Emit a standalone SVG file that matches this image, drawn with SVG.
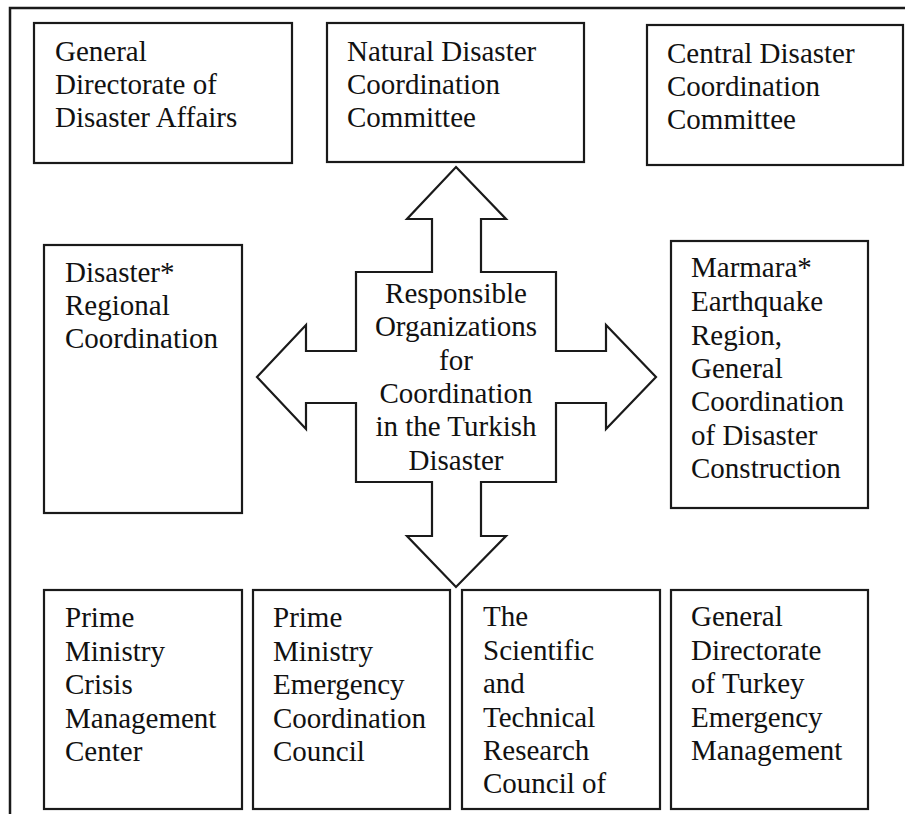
<svg xmlns="http://www.w3.org/2000/svg" width="905" height="814" viewBox="0 0 905 814">
<style>
  .box { fill: #ffffff; stroke: #1a1a1a; stroke-width: 2.2; }
  .frame { fill: none; stroke: #1a1a1a; stroke-width: 2.5; }
  text { font-family: 'Liberation Serif', 'DejaVu Serif', serif; font-size: 29px; fill: #111111; }
  .c { text-anchor: middle; }
  .arrow { fill: #ffffff; stroke: #1a1a1a; stroke-width: 2.2; stroke-linejoin: miter; }
</style>
<rect x="0" y="0" width="905" height="814" fill="#ffffff"/>
<path class="frame" d="M10,814 L10,8 L905,8"/>

<g id="connectors">
  <polygon class="arrow" points="456,167 506,219 481,219 481,272 556,272 556,351 606,351 606,325 656,377 606,429 606,403 556,403 556,482 481,482 481,536 506,536 456,587 407,536 432,536 432,482 356,482 356,403 306,403 306,429 257,377 306,325 306,351 356,351 356,272 432,272 432,219 407,219"/>
</g>

<g id="center" font-family="Liberation Serif, DejaVu Serif, serif">
  <text class="c" x="456" y="303">Responsible</text>
  <text class="c" x="456" y="336">Organizations</text>
  <text class="c" x="456" y="370">for</text>
  <text class="c" x="456" y="403">Coordination</text>
  <text class="c" x="456" y="436">in the Turkish</text>
  <text class="c" x="456" y="470">Disaster</text>
</g>

<g id="gdda" font-family="Liberation Serif, DejaVu Serif, serif">
  <rect class="box" x="34" y="23" width="258" height="140"/>
  <text x="55" y="61">General</text>
  <text x="55" y="94">Directorate of</text>
  <text x="55" y="127">Disaster Affairs</text>
</g>

<g id="ndcc" font-family="Liberation Serif, DejaVu Serif, serif">
  <rect class="box" x="327" y="23" width="257" height="139"/>
  <text x="347" y="61">Natural Disaster</text>
  <text x="347" y="94">Coordination</text>
  <text x="347" y="127">Committee</text>
</g>

<g id="cdcc" font-family="Liberation Serif, DejaVu Serif, serif">
  <rect class="box" x="647" y="25" width="256" height="140"/>
  <text x="667" y="63">Central Disaster</text>
  <text x="667" y="96">Coordination</text>
  <text x="667" y="129">Committee</text>
</g>

<g id="drc" font-family="Liberation Serif, DejaVu Serif, serif">
  <rect class="box" x="44" y="245" width="198" height="268"/>
  <text x="65" y="282">Disaster*</text>
  <text x="65" y="315">Regional</text>
  <text x="65" y="348">Coordination</text>
</g>

<g id="marmara" font-family="Liberation Serif, DejaVu Serif, serif">
  <rect class="box" x="671" y="241" width="197" height="267"/>
  <text x="691" y="277">Marmara*</text>
  <text x="691" y="311">Earthquake</text>
  <text x="691" y="345">Region,</text>
  <text x="691" y="378">General</text>
  <text x="691" y="411">Coordination</text>
  <text x="691" y="445">of Disaster</text>
  <text x="691" y="478">Construction</text>
</g>

<g id="pmcmc" font-family="Liberation Serif, DejaVu Serif, serif">
  <rect class="box" x="44" y="590" width="198" height="219"/>
  <text x="65" y="627">Prime</text>
  <text x="65" y="661">Ministry</text>
  <text x="65" y="694">Crisis</text>
  <text x="65" y="728">Management</text>
  <text x="65" y="761">Center</text>
</g>

<g id="pmecc" font-family="Liberation Serif, DejaVu Serif, serif">
  <rect class="box" x="253" y="590" width="197" height="219"/>
  <text x="273" y="627">Prime</text>
  <text x="273" y="661">Ministry</text>
  <text x="273" y="694">Emergency</text>
  <text x="273" y="728">Coordination</text>
  <text x="273" y="761">Council</text>
</g>

<g id="tubitak" font-family="Liberation Serif, DejaVu Serif, serif">
  <rect class="box" x="462" y="590" width="198" height="219"/>
  <text x="483" y="626">The</text>
  <text x="483" y="660">Scientific</text>
  <text x="483" y="693">and</text>
  <text x="483" y="727">Technical</text>
  <text x="483" y="760">Research</text>
  <text x="483" y="793">Council of</text>
</g>

<g id="gdtem" font-family="Liberation Serif, DejaVu Serif, serif">
  <rect class="box" x="671" y="590" width="197" height="219"/>
  <text x="691" y="626">General</text>
  <text x="691" y="660">Directorate</text>
  <text x="691" y="693">of Turkey</text>
  <text x="691" y="727">Emergency</text>
  <text x="691" y="760">Management</text>
</g>
</svg>
